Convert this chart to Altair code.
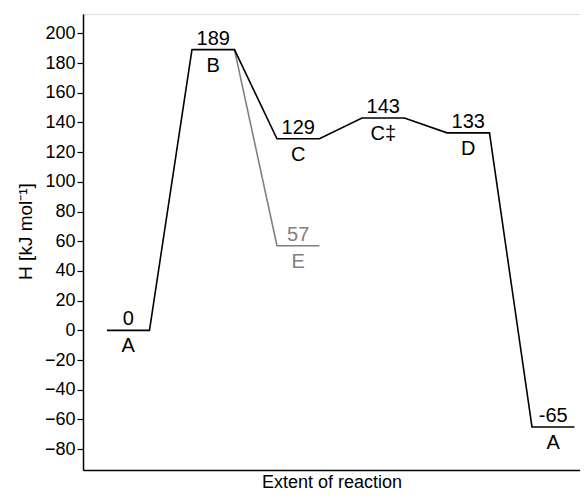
import altair as alt
import pandas as pd

# Levels of the main path
level_pos = [0, 1, 2, 3, 4, 5]
level_names = ["A", "B", "C", "C\u2021", "D", "A"]
level_values = [0, 189, 129, 143, 133, -65]
level_labels = ["0", "189", "129", "143", "133", "-65"]

# Side branch from B to E
branch_from = 1
branch_pos = 2
branch_name = "E"
branch_value = 57
branch_label = "57"

y_ticks = [-80, -60, -40, -20, 0, 20, 40, 60, 80, 100, 120, 140, 160, 180, 200]

W = 0.5  # level width in x units

main_rows = []
k = 0
for p, v in zip(level_pos, level_values):
    main_rows.append({"x": p, "y": v, "o": k}); k += 1
    main_rows.append({"x": p + W, "y": v, "o": k}); k += 1
main_df = pd.DataFrame(main_rows)

bv = level_values[level_pos.index(branch_from)]
branch_df = pd.DataFrame([
    {"x": branch_from + W, "y": bv, "o": 0},
    {"x": branch_pos, "y": branch_value, "o": 1},
    {"x": branch_pos + W, "y": branch_value, "o": 2},
])

text_df = pd.DataFrame({
    "x": [p + W / 2 for p in level_pos],
    "y": level_values,
    "num": level_labels,
    "name": level_names,
})
btext_df = pd.DataFrame({
    "x": [branch_pos + W / 2],
    "y": [branch_value],
    "num": [branch_label],
    "name": [branch_name],
})

FONT = "Liberation Sans"
GRAY = "#808080"

xs = alt.Scale(domain=[-0.282, 5.565], nice=False, zero=False)
ys = alt.Scale(domain=[-94, 213], nice=False, zero=False)

xaxis = alt.Axis(title="Extent of reaction", labels=False, ticks=False, grid=False)
yaxis = alt.Axis(title="H [kJ mol\u207b\u00b9]", values=y_ticks, grid=False, labelOverlap=False)

def X():
    return alt.X("x:Q", scale=xs, axis=xaxis)

def Y():
    return alt.Y("y:Q", scale=ys, axis=yaxis)

branch_line = alt.Chart(branch_df).mark_line(color=GRAY, strokeWidth=1.6).encode(
    x=X(), y=Y(), order="o:Q")
main_line = alt.Chart(main_df).mark_line(color="black", strokeWidth=1.6).encode(
    x=X(), y=Y(), order="o:Q")

num_t = alt.Chart(text_df).mark_text(font=FONT, fontSize=20, baseline="alphabetic", dy=-5, color="black").encode(
    x=X(), y=Y(), text="num:N")
name_t = alt.Chart(text_df).mark_text(font=FONT, fontSize=20, baseline="alphabetic", dy=22, color="black").encode(
    x=X(), y=Y(), text="name:N")
bnum_t = alt.Chart(btext_df).mark_text(font=FONT, fontSize=20, baseline="alphabetic", dy=-5, color=GRAY).encode(
    x=X(), y=Y(), text="num:N")
bname_t = alt.Chart(btext_df).mark_text(font=FONT, fontSize=20, baseline="alphabetic", dy=22, color=GRAY).encode(
    x=X(), y=Y(), text="name:N")

chart = alt.layer(branch_line, main_line, num_t, name_t, bnum_t, bname_t).properties(
    width=497, height=456,
    padding={"left": 75, "top": 6, "right": 0, "bottom": 21},
    autosize=alt.AutoSizeParams(type="none"),
).configure_view(stroke=None).configure(background="white").configure_axis(
    domainColor="black", domainWidth=1.5, tickColor="black", tickWidth=1.2,
    labelFont=FONT, labelColor="black", titleFont=FONT, titleFontWeight="normal",
    titleColor="black",
).configure_axisX(
    titleFontSize=18, titlePadding=17, titleBaseline="alphabetic",
).configure_axisY(
    tickSize=6, labelPadding=2, labelFontSize=18, titleFontSize=19,
    titlePadding=9, titleY=217,
)

chart.save("out.html", embed_options={"renderer": "svg", "actions": False})
